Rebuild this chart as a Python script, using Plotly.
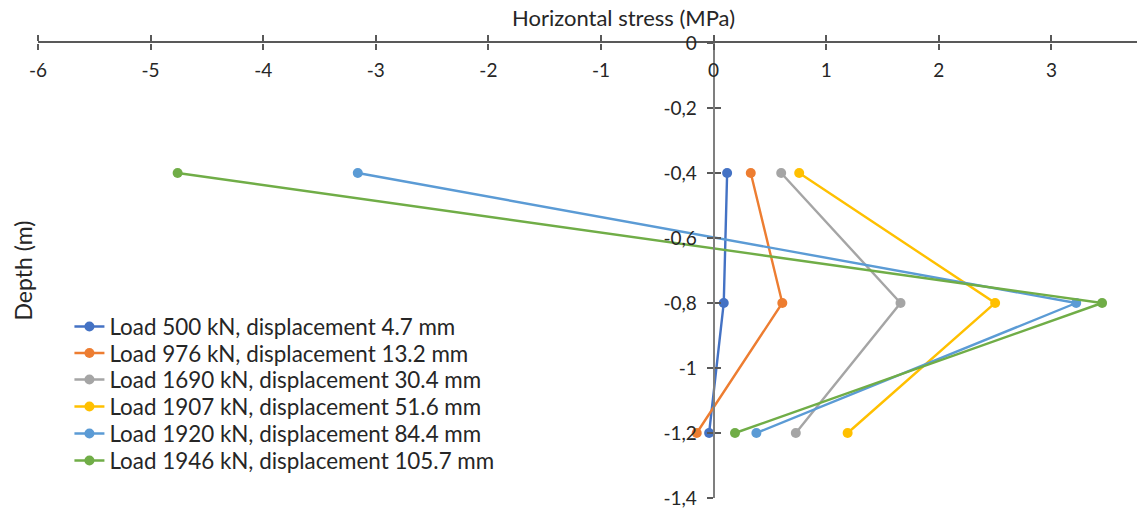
import plotly.graph_objects as go

depth = [-0.4, -0.8, -1.2]
series_names = [
    "Load 500 kN, displacement 4.7 mm",
    "Load 976 kN, displacement 13.2 mm",
    "Load 1690 kN, displacement 30.4 mm",
    "Load 1907 kN, displacement 51.6 mm",
    "Load 1920 kN, displacement 84.4 mm",
    "Load 1946 kN, displacement 105.7 mm",
]
stress_500 = [0.12, 0.09, -0.04]
stress_976 = [0.33, 0.61, -0.15]
stress_1690 = [0.60, 1.66, 0.73]
stress_1907 = [0.76, 2.50, 1.19]
stress_1920 = [-3.16, 3.22, 0.38]
stress_1946 = [-4.76, 3.45, 0.19]
colors = ["#4472C4", "#ED7D31", "#A5A5A5", "#FFC000", "#5B9BD5", "#70AD47"]

x_ticks = [-6, -5, -4, -3, -2, -1, 0, 1, 2, 3]
x_ticktext = ["-6", "-5", "-4", "-3", "-2", "-1", "0", "1", "2", "3"]
y_ticks = [0, -0.2, -0.4, -0.6, -0.8, -1.0, -1.2, -1.4]
y_ticktext = ["0", "-0,2", "-0,4", "-0,6", "-0,8", "-1", "-1,2", "-1,4"]
x_range = [-6, 3.76]
y_range = [-1.4, 0]

all_series = [stress_500, stress_976, stress_1690, stress_1907, stress_1920, stress_1946]

# layout geometry (pixels)
W, H = 1137, 514
ML, MR, MT, MB = 38, 0, 43, 16
plot_h = H - MT - MB
legend_rows_px = [327, 353.5, 380, 407, 434, 461]
legend_x = 0.0286

FONT = "Lato, Open Sans, sans-serif"
axis_col = "#7F7F7F"
tick_col = "#595959"
font_col = "#262626"

fig = go.Figure()
legend_layout = {}
for i, (name, vals, col) in enumerate(zip(series_names, all_series, colors)):
    lname = "legend" if i == 0 else f"legend{i + 1}"
    fig.add_trace(go.Scatter(
        x=vals, y=depth, name=name, mode="lines+markers",
        line=dict(color=col, width=2.4),
        marker=dict(color=col, size=10),
        xaxis="x", yaxis="y", legend=lname,
    ))
    legend_layout[lname] = dict(
        x=legend_x, y=(H - MB - legend_rows_px[i]) / plot_h,
        xanchor="left", yanchor="middle",
        bgcolor="rgba(0,0,0,0)", font=dict(size=22.4, color=font_col, family=FONT),
        itemwidth=30,
    )
# invisible helper trace for the overlay axes (crossing ticks)
fig.add_trace(go.Scatter(x=[0], y=[0], mode="markers", marker=dict(opacity=0),
                         showlegend=False, hoverinfo="skip", xaxis="x2", yaxis="y2"))

ypos = (0 - x_range[0]) / (x_range[1] - x_range[0])

fig.update_layout(
    width=W, height=H,
    margin=dict(l=ML, r=MR, t=MT, b=MB, autoexpand=False),
    paper_bgcolor="white", plot_bgcolor="white",
    font=dict(family=FONT, size=18, color=font_col),
    showlegend=True,
    xaxis=dict(range=x_range, side="top", showgrid=False, zeroline=False,
               showline=True, linecolor=tick_col, linewidth=1.5,
               ticks="outside", ticklen=6, tickwidth=1.5, tickcolor=tick_col,
               tickvals=x_ticks, showticklabels=False, anchor="y", automargin=False),
    xaxis2=dict(range=x_range, side="bottom", overlaying="x", anchor="free", position=1,
                showgrid=False, zeroline=False, showline=False,
                ticks="outside", ticklen=6, tickwidth=1.5, tickcolor=tick_col,
                tickvals=x_ticks, ticktext=x_ticktext, ticklabelstandoff=4,
                tickfont=dict(size=19, color=font_col), automargin=False),
    yaxis=dict(range=y_range, showgrid=False, zeroline=False,
               showline=True, linecolor=axis_col, linewidth=2,
               ticks="outside", ticklen=6, tickwidth=1.5, tickcolor=tick_col,
               tickvals=y_ticks, ticktext=y_ticktext, ticklabelstandoff=6,
               tickfont=dict(size=19, color=font_col),
               anchor="free", position=ypos, automargin=False),
    yaxis2=dict(range=y_range, overlaying="y", showgrid=False, zeroline=False,
                showline=False, ticks="inside", ticklen=6, tickwidth=1.5, tickcolor=tick_col,
                tickvals=y_ticks, showticklabels=False,
                anchor="free", position=ypos, automargin=False),
    **legend_layout,
)

fig.add_annotation(text="Horizontal stress (MPa)", xref="paper", yref="paper",
                   x=(623 - ML) / (W - ML - MR), xanchor="center", y=1, yanchor="bottom",
                   yshift=10, showarrow=False,
                   font=dict(size=22, color=font_col, family=FONT))
fig.add_annotation(text="Depth (m)", xref="paper", yref="paper",
                   x=(22 - ML) / (W - ML - MR), xanchor="center", y=0.5, yanchor="middle",
                   textangle=-90, showarrow=False,
                   font=dict(size=23, color=font_col, family=FONT))

fig.write_html("out.html", config={"displayModeBar": False},
               post_script="document.body.style.margin='0';")
